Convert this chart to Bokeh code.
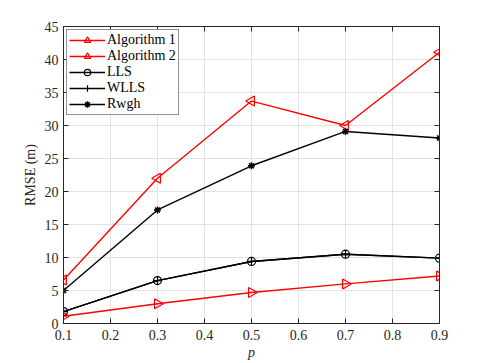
import math
from bokeh.plotting import figure
from bokeh.models import (LinearAxis, FixedTicker, Legend, LegendItem, Range1d,
                          CustomJSTickFormatter, ColumnDataSource)
from bokeh.embed import file_html
from bokeh.resources import INLINE

# ---- data ----
p_values = [0.1, 0.3, 0.5, 0.7, 0.9]
alg1 = [6.6, 22.0, 33.7, 30.0, 41.1]
alg2 = [1.1, 3.0, 4.7, 6.0, 7.2]
lls = [1.8, 6.5, 9.4, 10.5, 9.9]
wlls = [1.8, 6.5, 9.4, 10.5, 9.9]
rwgh = [5.0, 17.2, 23.9, 29.1, 28.1]
x_ticks = [0.1, 0.2, 0.3, 0.4, 0.5, 0.6, 0.7, 0.8, 0.9]
y_ticks = [0, 5, 10, 15, 20, 25, 30, 35, 40, 45]
series_names = ["Algorithm 1", "Algorithm 2", "LLS", "WLLS", "Rwgh"]

FONT = "Liberation Serif"
AX = "#262626"

p = figure(width=485, height=363, output_backend="svg", toolbar_location=None,
           x_range=Range1d(0.1, 0.9), y_range=Range1d(0, 45),
           min_border_left=63, min_border_right=46, min_border_top=26,
           min_border_bottom=40)
p.outline_line_color = AX
p.outline_line_width = 1
p.background_fill_color = "white"
p.border_fill_color = "white"

for ax in (p.xaxis[0], p.yaxis[0]):
    ax.axis_line_color = AX
    ax.major_tick_line_color = AX
    ax.major_tick_in = 5
    ax.major_tick_out = 0
    ax.minor_tick_line_color = None
    ax.major_label_text_font = FONT
    ax.major_label_text_font_size = "14px"
    ax.major_label_text_color = AX
    ax.axis_label_text_font = FONT
    ax.axis_label_text_font_size = "14px"
    ax.axis_label_text_color = AX
    ax.axis_label_text_font_style = "normal"

p.xaxis[0].ticker = FixedTicker(ticks=x_ticks)
p.yaxis[0].ticker = FixedTicker(ticks=y_ticks)
p.xaxis[0].axis_label = "p"
p.xaxis[0].axis_label_text_font_style = "italic"
p.xaxis[0].major_label_standoff = 6
p.xaxis[0].axis_label_standoff = 2
p.yaxis[0].axis_label = "RMSE (m)"
p.yaxis[0].major_label_standoff = 5
p.yaxis[0].axis_label_standoff = 4

blank = CustomJSTickFormatter(code="return ''")
for loc, tick in (("above", x_ticks), ("right", y_ticks)):
    a = LinearAxis(ticker=FixedTicker(ticks=tick), formatter=blank)
    a.axis_line_color = AX
    a.major_tick_line_color = AX
    a.major_tick_in = 5
    a.major_tick_out = 0
    a.minor_tick_line_color = None
    a.major_label_standoff = 0
    p.add_layout(a, loc)

p.xgrid.grid_line_color = "#e3e3e3"
p.ygrid.grid_line_color = "#e3e3e3"
p.xgrid.ticker = FixedTicker(ticks=x_ticks)
p.ygrid.ticker = FixedTicker(ticks=y_ticks)

RED = "#ff0000"
LW = 1.4
items = []

src1 = ColumnDataSource(dict(x=p_values, y=alg1, ang=[math.pi / 2] * len(p_values)))
src2 = ColumnDataSource(dict(x=p_values, y=alg2, ang=[-math.pi / 2] * len(p_values)))

l1 = p.line(p_values, alg1, line_color=RED, line_width=LW)
m1 = p.scatter("x", "y", source=src1, marker="triangle", angle="ang", size=10,
               line_color=RED, fill_color=None, line_width=1.2)
items.append(LegendItem(label=series_names[0], renderers=[l1, m1]))

l2 = p.line(p_values, alg2, line_color=RED, line_width=LW)
m2 = p.scatter("x", "y", source=src2, marker="triangle", angle="ang", size=10,
               line_color=RED, fill_color=None, line_width=1.2)
items.append(LegendItem(label=series_names[1], renderers=[l2, m2]))

l3 = p.line(p_values, lls, line_color="black", line_width=LW)
m3 = p.scatter(p_values, lls, marker="circle", size=8,
               line_color="black", fill_color=None, line_width=1.2)
items.append(LegendItem(label=series_names[2], renderers=[l3, m3]))

l4 = p.line(p_values, wlls, line_color="black", line_width=LW)
m4 = p.scatter(p_values, wlls, marker="cross", size=8,
               line_color="black", line_width=1.2)
items.append(LegendItem(label=series_names[3], renderers=[l4, m4]))

l5 = p.line(p_values, rwgh, line_color="black", line_width=LW)
m5 = p.scatter(p_values, rwgh, marker="asterisk", size=7,
               line_color="black", line_width=1.5)
items.append(LegendItem(label=series_names[4], renderers=[l5, m5]))

legend = Legend(items=items, location="top_left")
legend.margin = 3
legend.padding = 2
legend.spacing = 0
legend.glyph_width = 36
legend.glyph_height = 16
legend.label_height = 16
legend.label_standoff = 2
legend.label_text_font = FONT
legend.label_text_font_size = "14px"
legend.label_text_color = "black"
legend.border_line_color = AX
legend.border_line_width = 1
legend.background_fill_color = "white"
legend.background_fill_alpha = 1
p.add_layout(legend)

open("out.html", "w").write(file_html(p, INLINE))
